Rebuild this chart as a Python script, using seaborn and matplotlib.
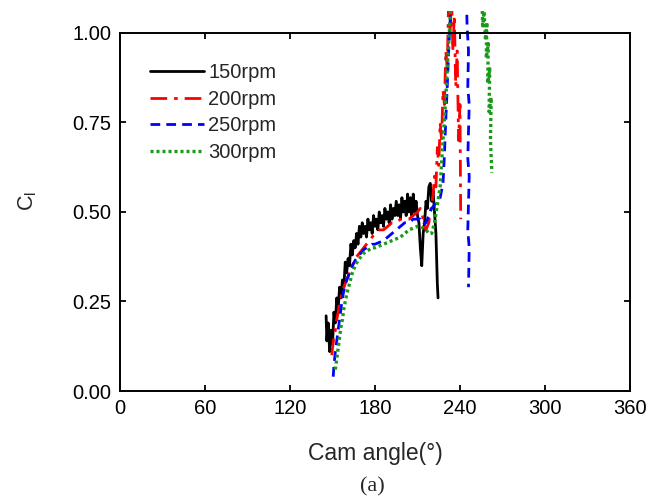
import numpy as np
import pandas as pd
import matplotlib
matplotlib.use("Agg")
import matplotlib.pyplot as plt
import seaborn as sns

# ---------------- data ----------------
labels = ["150rpm", "200rpm", "250rpm", "300rpm"]

x150 = [145.5, 146, 147, 148, 149, 150, 151, 152, 153, 154, 155, 156, 157, 158, 159, 160,
        161, 162, 163, 164, 165, 166, 167, 168, 169, 170, 171, 172, 173, 174, 175, 176,
        177, 178, 179, 180, 181, 182, 183, 184, 185, 186, 187, 188, 189, 190, 191, 192,
        193, 194, 195, 196, 197, 198, 199, 200, 201, 202, 203, 204, 205, 206, 207, 208,
        209, 210, 211, 212, 213, 214, 215, 216, 217, 218, 219, 220, 221, 222, 223, 224, 224.5]
y150 = [0.21, 0.14, 0.19, 0.11, 0.17, 0.13, 0.22, 0.19, 0.26, 0.23, 0.29, 0.26, 0.31, 0.29, 0.36, 0.33,
        0.37, 0.35, 0.41, 0.38, 0.42, 0.40, 0.44, 0.41, 0.46, 0.43, 0.47, 0.44, 0.46, 0.43, 0.48, 0.45,
        0.47, 0.44, 0.49, 0.46, 0.48, 0.45, 0.50, 0.47, 0.49, 0.46, 0.51, 0.48, 0.50, 0.47, 0.52, 0.48,
        0.51, 0.49, 0.53, 0.49, 0.52, 0.48, 0.54, 0.50, 0.53, 0.49, 0.55, 0.50, 0.54, 0.49, 0.55, 0.50,
        0.53, 0.49, 0.47, 0.40, 0.35, 0.44, 0.47, 0.53, 0.51, 0.57, 0.58, 0.53, 0.56, 0.50, 0.44, 0.30, 0.26]

x200 = [149.5, 150, 151, 152, 153, 154, 155, 156, 157, 158, 160, 162, 164, 166, 168, 170, 172, 174,
        176, 178, 180, 183, 186, 189, 192, 195, 198, 201, 204, 207, 210, 212, 213, 214, 215, 216,
        217, 218, 219, 220, 221, 222, 223, 224, 225, 226, 227, 228, 229, 230, 231, 232, 233, 234,
        235, 236, 237, 238, 239, 240, 240.5]
y200 = [0.10, 0.12, 0.15, 0.17, 0.20, 0.22, 0.25, 0.26, 0.28, 0.29, 0.31, 0.33, 0.35, 0.37, 0.38, 0.39,
        0.40, 0.41, 0.42, 0.43, 0.44, 0.45, 0.45, 0.46, 0.47, 0.47, 0.48, 0.48, 0.48, 0.49, 0.50, 0.51,
        0.50, 0.48, 0.46, 0.45, 0.46, 0.47, 0.50, 0.52, 0.55, 0.60, 0.57, 0.68, 0.63, 0.75, 0.70, 0.84,
        0.80, 0.95, 0.90, 1.10, 1.00, 1.10, 0.95, 1.05, 0.85, 0.95, 0.70, 0.80, 0.48]

x250 = [150.5, 151, 152, 153, 154, 155, 156, 157, 158, 160, 162, 164, 166, 168, 170, 172, 174, 176,
        178, 180, 183, 186, 189, 192, 195, 198, 201, 204, 207, 210, 212, 214, 216, 218, 220, 222,
        224, 226, 228, 229, 230, 231, 232, 233, 234, 236, 244, 245, 246, 245.5, 246.5, 245.5,
        246.5, 245.5, 246.5, 246]
y250 = [0.04, 0.07, 0.11, 0.14, 0.17, 0.20, 0.23, 0.26, 0.28, 0.31, 0.33, 0.35, 0.365, 0.375, 0.385,
        0.395, 0.40, 0.405, 0.41, 0.41, 0.415, 0.42, 0.43, 0.44, 0.45, 0.46, 0.47, 0.47, 0.48, 0.48,
        0.48, 0.465, 0.47, 0.49, 0.51, 0.52, 0.53, 0.54, 0.58, 0.66, 0.76, 0.85, 0.95, 1.03, 1.12,
        1.20, 1.20, 1.02, 0.95, 0.85, 0.80, 0.65, 0.60, 0.45, 0.40, 0.29]

x300 = [152, 153, 154, 155, 156, 157, 158, 159, 160, 162, 164, 166, 168, 170, 172, 174, 176, 178,
        180, 183, 186, 189, 192, 195, 198, 201, 204, 207, 210, 212, 214, 216, 218, 220, 222, 224,
        226, 228, 230, 231, 232, 233, 234, 235, 255, 256, 257, 258, 259, 258.5, 260, 259.5, 261,
        260.5, 262, 261.5, 262.5]
y300 = [0.06, 0.09, 0.12, 0.15, 0.18, 0.20, 0.23, 0.25, 0.27, 0.30, 0.33, 0.35, 0.365, 0.375, 0.385,
        0.39, 0.395, 0.40, 0.40, 0.405, 0.41, 0.415, 0.42, 0.425, 0.43, 0.44, 0.45, 0.455, 0.46,
        0.46, 0.455, 0.45, 0.44, 0.44, 0.47, 0.52, 0.57, 0.70, 0.82, 0.90, 0.97, 1.04, 1.12, 1.20,
        1.20, 1.02, 1.06, 0.98, 1.03, 0.93, 0.97, 0.86, 0.90, 0.78, 0.82, 0.70, 0.61]

xticks = [0, 60, 120, 180, 240, 300, 360]
yticks = [0.00, 0.25, 0.50, 0.75, 1.00]

# ---------------- style ----------------
sns.set_style("ticks")
plt.rcParams["font.family"] = ["Liberation Sans", "DejaVu Sans"]
plt.rcParams["mathtext.fontset"] = "custom"
plt.rcParams["mathtext.rm"] = "Liberation Sans"

fig = plt.figure(figsize=(6.56, 4.98), dpi=100)
ax = fig.add_axes([120 / 656, 107 / 498, 510 / 656, 379.5 / 498])

series = [
    (x150, y150, "black", "-", 2.0),
    (x200, y200, "red", (0, (6, 2.5, 1.3, 2.5)), 2.0),
    (x250, y250, "blue", (0, (3.5, 2.2)), 2.0),
    (x300, y300, "#1a9a1a", (0, (0.9, 0.9)), 2.4),
]
for (xs, ys, col, ls, lw), lab in zip(series, labels):
    df = pd.DataFrame({"x": xs, "y": ys})
    sns.lineplot(data=df, x="x", y="y", sort=False, estimator=None, ax=ax,
                 color=col, linestyle=ls, linewidth=lw, label=lab)

ax.set_xlim(0, 360)
ax.set_ylim(0, 1.06)
ax.set_xticks(xticks)
ax.set_yticks(yticks)
ax.set_yticklabels([f"{v:.2f}" for v in yticks])

for s in ["left", "right", "top", "bottom"]:
    ax.spines[s].set_visible(True)
    ax.spines[s].set_linewidth(1.4)
    ax.spines[s].set_color("black")
ax.spines["top"].set_position(("data", 1.0))
ax.spines["left"].set_bounds(0, 1.0)
ax.spines["right"].set_bounds(0, 1.0)

ax.tick_params(axis="both", which="both", direction="in", length=4.5, width=1.3,
               top=True, right=True, labelsize=14.5, pad=6, colors="black")

ax.set_xlabel("Cam angle(°)", fontsize=16.5, labelpad=17)
ax.set_ylabel("C$_\\mathregular{l}$", fontsize=15.5, labelpad=24)

leg = ax.legend(loc="upper left", bbox_to_anchor=(150 / 656, 1 - 63 / 498),
                bbox_transform=fig.transFigure, frameon=False, fontsize=14.5,
                handlelength=2.7, handletextpad=0.2, labelspacing=0.38,
                borderpad=0, borderaxespad=0)

fig.text(372 / 656, 1 - 487 / 498, "(a)", ha="center", va="center",
         fontsize=16, family=["Liberation Serif", "DejaVu Serif"])

fig.savefig("out.png", dpi=100)
